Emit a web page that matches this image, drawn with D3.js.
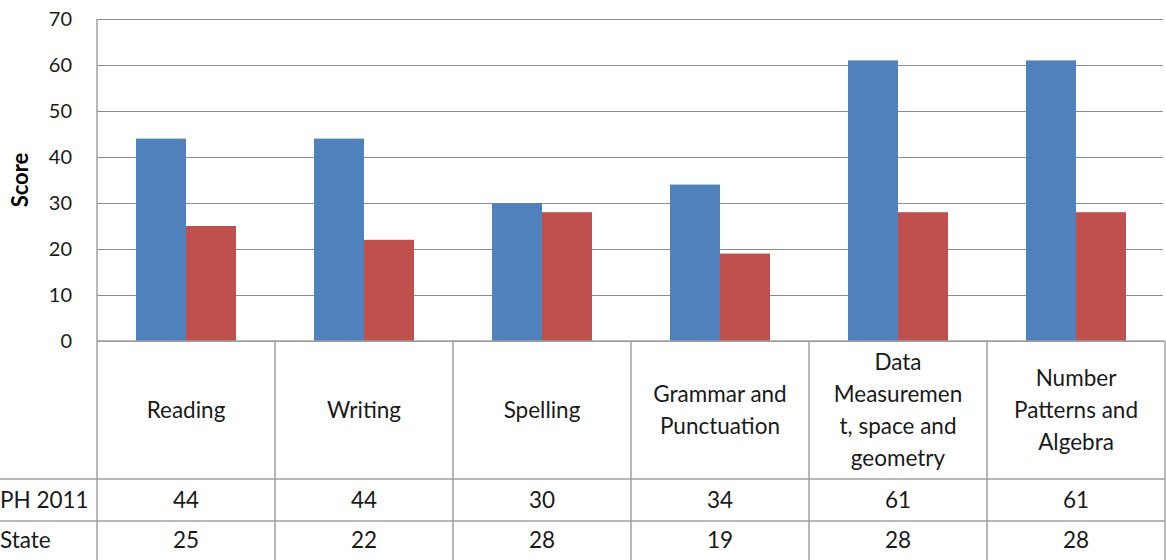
<!DOCTYPE html>
<html>
<head>
<meta charset="utf-8">
<script src="https://cdn.jsdelivr.net/npm/d3@7"></script>
<style>
  body { margin: 0; background: #fff; }
  svg { display: block; font-family: Lato, "Open Sans", sans-serif; }
</style>
</head>
<body>
<svg width="1166" height="560"></svg>
<script>
// chart data
const categories = ["Reading", "Writing", "Spelling", "Grammar and Punctuation",
  "Data Measurement, space and geometry", "Number Patterns and Algebra"];
const categoryLines = [
  ["Reading"],
  ["Writing"],
  ["Spelling"],
  ["Grammar and", "Punctuation"],
  ["Data", "Measuremen", "t, space and", "geometry"],
  ["Number", "Patterns and", "Algebra"]
];
const seriesNames = ["PH 2011", "State"];
const ph2011 = [44, 44, 30, 34, 61, 61];
const state = [25, 22, 28, 19, 28, 28];
const yTicks = [0, 10, 20, 30, 40, 50, 60, 70];

const colors = ["#4f81bd", "#c0504d"];

let svg = d3.select("svg");

let plotL = 97, plotR = 1165, plotT = 19, base = 341;
let rowCat = 479, rowPh = 521, plotB = 562;

let x = d3.scaleBand().domain(categories).range([plotL, plotR]);
let xs = d3.scaleBand().domain(seriesNames).range([0, 100]);
let y = d3.scaleLinear().domain([0, 70]).range([base, plotT]);

// gridlines
svg.append("g")
  .selectAll("line")
  .data(yTicks)
  .enter()
  .append("line")
  .attr("x1", plotL)
  .attr("x2", plotR - 2)
  .attr("y1", d => y(d) + 0.5)
  .attr("y2", d => y(d) + 0.5)
  .attr("stroke", "#8c8c8c")
  .attr("stroke-width", 1);

// y tick labels
svg.append("g")
  .selectAll("text")
  .data(yTicks)
  .enter()
  .append("text")
  .attr("x", 72)
  .attr("y", d => y(d))
  .attr("dy", "0.35em")
  .attr("text-anchor", "end")
  .attr("font-size", 20)
  .attr("fill", "#1a1a1a")
  .text(d => d);

svg.append("text")
  .attr("transform", "translate(28," + (plotT + base) / 2 + ") rotate(-90)")
  .attr("text-anchor", "middle")
  .attr("font-size", 22)
  .attr("font-weight", "bold")
  .text("Score");

// bars
let series = [ph2011, state];
series.forEach(function (vals, s) {
  svg.append("g")
    .selectAll("rect")
    .data(vals)
    .enter()
    .append("rect")
    .attr("x", (d, i) => x(categories[i]) + x.bandwidth() / 2 - 50 + xs(seriesNames[s]))
    .attr("width", xs.bandwidth())
    .attr("y", d => y(d))
    .attr("height", d => base - y(d))
    .attr("fill", colors[s]);
});

// data table
let grid = svg.append("g").attr("stroke", "#a0a0a0").attr("stroke-width", 1.5);
grid.append("line").attr("x1", plotL).attr("x2", plotL).attr("y1", plotT).attr("y2", plotB);
grid.append("line").attr("x1", plotL).attr("x2", plotR).attr("y1", base).attr("y2", base);
[rowCat, rowPh].forEach(function (yy) {
  grid.append("line").attr("x1", 0).attr("x2", plotR).attr("y1", yy).attr("y2", yy);
});
grid.selectAll("line.col")
  .data(categories)
  .enter()
  .append("line")
  .attr("class", "col")
  .attr("x1", d => x(d) + x.bandwidth())
  .attr("x2", d => x(d) + x.bandwidth())
  .attr("y1", base)
  .attr("y2", plotB);

// category labels
let lineH = 32;
svg.append("g")
  .selectAll("text")
  .data(categoryLines)
  .enter()
  .append("text")
  .attr("text-anchor", "middle")
  .attr("font-size", 22.5)
  .attr("fill", "#1a1a1a")
  .each(function (lines, i) {
    let cx = x(categories[i]) + x.bandwidth() / 2;
    let cy = (base + rowCat) / 2 - (lines.length - 1) * lineH / 2;
    d3.select(this)
      .selectAll("tspan")
      .data(lines)
      .enter()
      .append("tspan")
      .attr("x", cx)
      .attr("y", (d, j) => cy + j * lineH)
      .attr("dy", "0.35em")
      .text(d => d);
  });

// value rows
let rowMid = [(rowCat + rowPh) / 2, (rowPh + plotB - 2) / 2];
series.forEach(function (vals, s) {
  svg.append("text")
    .attr("x", 0)
    .attr("y", rowMid[s])
    .attr("dy", "0.35em")
    .attr("font-size", 22.5)
    .attr("fill", "#1a1a1a")
    .text(seriesNames[s]);
  svg.append("g")
    .selectAll("text")
    .data(vals)
    .enter()
    .append("text")
    .attr("x", (d, i) => x(categories[i]) + x.bandwidth() / 2)
    .attr("y", rowMid[s])
    .attr("dy", "0.35em")
    .attr("text-anchor", "middle")
    .attr("font-size", 22.5)
    .attr("fill", "#1a1a1a")
    .text(d => d);
});
</script>
</body>
</html>
